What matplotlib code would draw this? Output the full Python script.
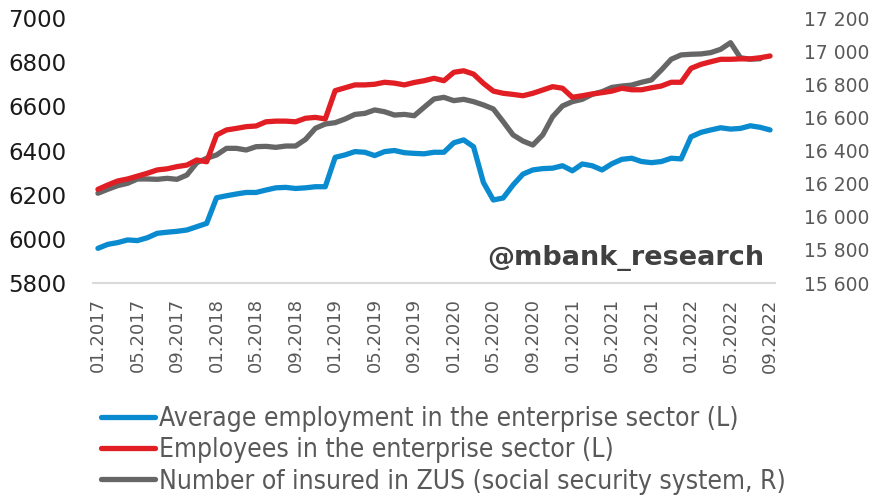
import matplotlib
matplotlib.use("Agg")
import matplotlib.pyplot as plt
from matplotlib.font_manager import FontProperties
import numpy as np
import pandas as pd

months = pd.date_range("2017-01-01", periods=69, freq="MS")
month_labels = list(months.strftime("%m.%Y"))

avg_employment = [5957, 5975, 5983, 5995, 5992, 6005, 6025, 6030, 6034, 6040, 6055, 6070,
                  6186, 6195, 6203, 6210, 6210, 6221, 6231, 6233, 6228, 6231, 6236, 6236,
                  6369, 6380, 6395, 6392, 6377, 6395, 6400, 6390, 6387, 6385, 6392, 6392,
                  6435, 6448, 6417, 6255, 6176, 6185, 6244, 6293, 6312, 6318, 6320, 6331,
                  6308, 6339, 6331, 6312, 6340, 6360, 6365, 6350, 6345, 6350, 6365, 6362,
                  6462, 6482, 6493, 6503, 6497, 6500, 6512, 6505, 6493]

employees = [6224, 6244, 6262, 6271, 6284, 6297, 6312, 6317, 6327, 6334, 6357, 6349,
             6470, 6493, 6500, 6508, 6511, 6530, 6533, 6533, 6530, 6546, 6550, 6543,
             6671, 6684, 6697, 6697, 6700, 6709, 6705, 6697, 6708, 6716, 6727, 6716,
             6754, 6761, 6746, 6704, 6669, 6659, 6654, 6648, 6659, 6674, 6689, 6682,
             6641, 6648, 6656, 6662, 6669, 6682, 6675, 6675, 6684, 6692, 6709, 6709,
             6772, 6790, 6802, 6813, 6813, 6815, 6815, 6820, 6828]

insured_zus = [16142, 16166, 16188, 16202, 16228, 16228, 16226, 16232, 16226, 16252, 16326, 16353,
               16373, 16413, 16413, 16403, 16423, 16425, 16419, 16427, 16427, 16467, 16534, 16560,
               16568, 16590, 16618, 16624, 16645, 16634, 16614, 16618, 16610, 16661, 16711, 16721,
               16701, 16709, 16695, 16675, 16651, 16574, 16494, 16457, 16433, 16494, 16604, 16669,
               16695, 16709, 16739, 16755, 16781, 16789, 16795, 16812, 16826, 16886, 16951, 16977,
               16981, 16983, 16991, 17011, 17051, 16960, 16951, 16954, np.nan]

series_labels = ["Average employment in the enterprise sector (L)",
                 "Employees in the enterprise sector (L)",
                 "Number of insured in ZUS (social security system, R)"]
left_ticks = [5800, 6000, 6200, 6400, 6600, 6800, 7000]
right_ticks = [15600, 15800, 16000, 16200, 16400, 16600, 16800, 17000, 17200]

c_blue = "#0A8BD0"
c_red = "#E01E24"
c_gray = "#666666"

fig = plt.figure(figsize=(8.84, 4.98), dpi=100)
ax = fig.add_axes([93/884, 1-283/498, (775-93)/884, (283-18)/498])
ax2 = ax.twinx()

x = np.arange(len(month_labels))
l1, = ax.plot(x, avg_employment, color=c_blue, lw=3.8, solid_capstyle="round", solid_joinstyle="round")
l2, = ax.plot(x, employees, color=c_red, lw=3.8, solid_capstyle="round", solid_joinstyle="round")
l3, = ax2.plot(x, insured_zus, color=c_gray, lw=3.8, solid_capstyle="round", solid_joinstyle="round")
ax.set_zorder(ax2.get_zorder() + 1)
ax.patch.set_visible(False)

ax.set_xlim(-0.5, len(x) - 0.5)
ax.set_ylim(5800, 7000)
ax2.set_ylim(15600, 17200)
ax.set_yticks(left_ticks)
ax.set_yticklabels([str(v) for v in left_ticks])
ax2.set_yticks(right_ticks)
ax2.set_yticklabels([f"{v:,}".replace(",", " ") for v in right_ticks])

ax.set_xticks(x[::4])
ax.set_xticklabels(month_labels[::4], rotation=90, fontsize=13, color="#595959")

for a in (ax, ax2):
    for s in ("top", "left", "right", "bottom"):
        a.spines[s].set_visible(False)
    a.tick_params(length=0)
ax.spines["bottom"].set_visible(True)
ax.spines["bottom"].set_color("#D9D9D9")
ax.spines["bottom"].set_linewidth(1.5)

ax.tick_params(axis="y", labelsize=16.5, labelcolor="#1a1a1a", pad=19)
ax2.tick_params(axis="y", labelsize=13.5, labelcolor="#595959", pad=21)
ax.tick_params(axis="x", pad=11)

ax.text(0.985, 0.095, "@mbank_research", transform=ax.transAxes, ha="right", va="center",
        fontsize=19.5, fontweight="bold", color="#404040")

leg_font = FontProperties(family="DejaVu Sans", stretch="condensed", size=19)
fig.legend([l1, l2, l3], series_labels, loc="upper left", bbox_to_anchor=(101/884, 1-406/498),
           frameon=False, prop=leg_font, labelcolor="#595959", handlelength=2.05,
           handletextpad=0.15, labelspacing=0.2, borderaxespad=0, borderpad=0)

fig.savefig("out.png", dpi=100)
